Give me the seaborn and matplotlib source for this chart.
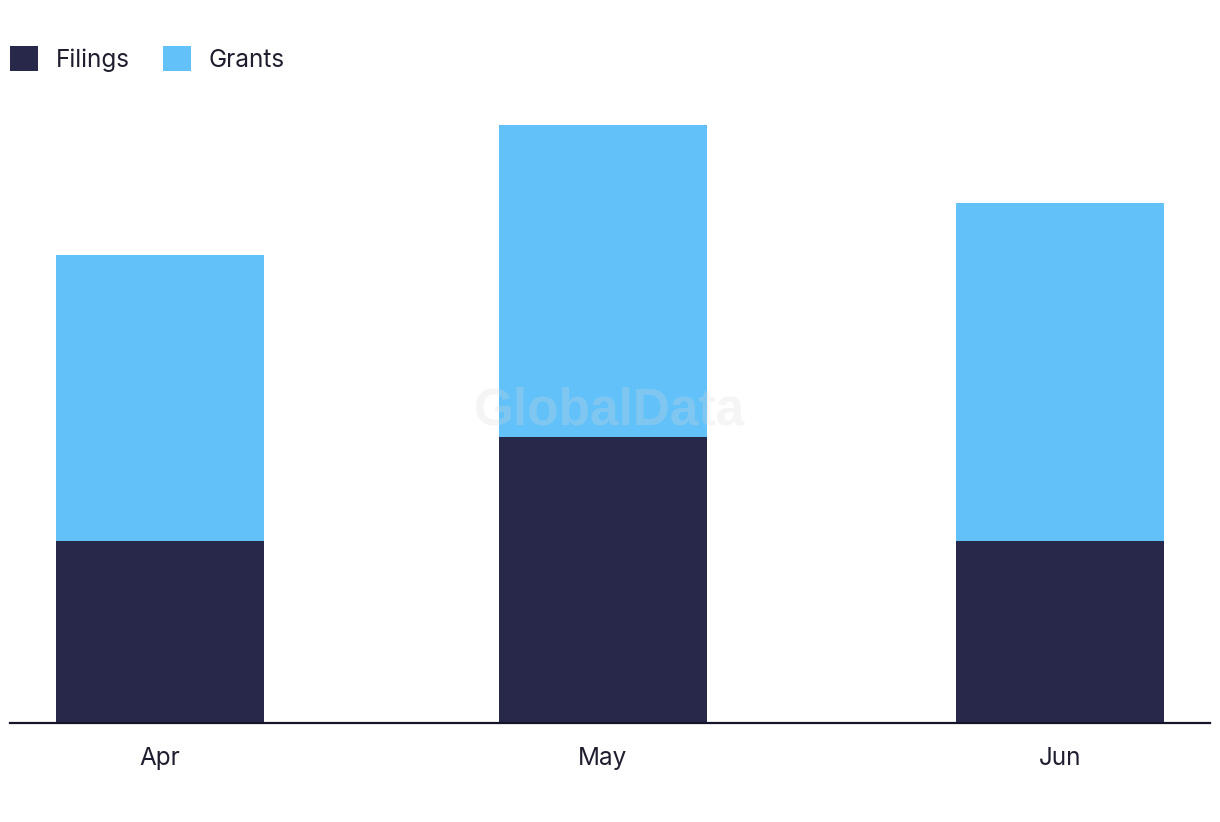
import matplotlib
matplotlib.use("Agg")
import matplotlib.pyplot as plt
from matplotlib.patches import Patch
import seaborn as sns
import pandas as pd

months = ["Apr", "May", "Jun"]
day_offsets = [0, 30, 61]  # days from 1 Apr (time axis)
filings = [7, 11, 7]
grants = [11, 12, 13]

FIL_COLOR = "#27284a"
GRA_COLOR = "#62c1f9"
TEXT_COLOR = "#1e1e30"

sns.set_theme(style="white")
plt.rcParams["font.family"] = ["Inter", "DejaVu Sans"]

df = pd.DataFrame({
    "month": months,
    "day": day_offsets,
    "Filings": filings,
    "Grants": grants,
})
df["Total"] = df["Filings"] + df["Grants"]

fig = plt.figure(figsize=(12.2, 8.22), dpi=100)
ax = fig.add_axes([10 / 1220, (822 - 723) / 822, 1200 / 1220, 624 / 822])

sns.barplot(data=df, x="day", y="Total", native_scale=True, color=GRA_COLOR,
            saturation=1, width=0.47, linewidth=0, ax=ax)
sns.barplot(data=df, x="day", y="Filings", native_scale=True, color=FIL_COLOR,
            saturation=1, width=0.47, linewidth=0, ax=ax)

ax.set_xlim(-10.17, 71.17)
ax.set_ylim(0, 24)
ax.set_xticks(day_offsets, labels=months)
ax.set_yticks([])
ax.set_xlabel("")
ax.set_ylabel("")
for s in ["top", "right", "left"]:
    ax.spines[s].set_visible(False)
ax.spines["bottom"].set_color("#15152a")
ax.spines["bottom"].set_linewidth(1.6)
ax.tick_params(axis="x", length=0, pad=17, labelsize=17.5, labelcolor=TEXT_COLOR)

# watermark
fig.text(610 / 1220, 1 - 411 / 822, "GlobalData", ha="center", va="center",
         fontsize=37, fontweight="bold", family=["Liberation Sans", "DejaVu Sans"],
         color="#d8d8d8", alpha=0.25, zorder=10)

handles = [Patch(facecolor=FIL_COLOR, edgecolor="none", label="Filings"),
           Patch(facecolor=GRA_COLOR, edgecolor="none", label="Grants")]
leg = fig.legend(handles=handles, loc="center left",
                 bbox_to_anchor=(10 / 1220, 1 - 59 / 822), ncol=2, frameon=False,
                 fontsize=17.5, handlelength=1.16, handleheight=1.16,
                 handletextpad=0.72, columnspacing=1.36, borderpad=0,
                 borderaxespad=0)
for t in leg.get_texts():
    t.set_color(TEXT_COLOR)

fig.savefig("out.png", dpi=100)
